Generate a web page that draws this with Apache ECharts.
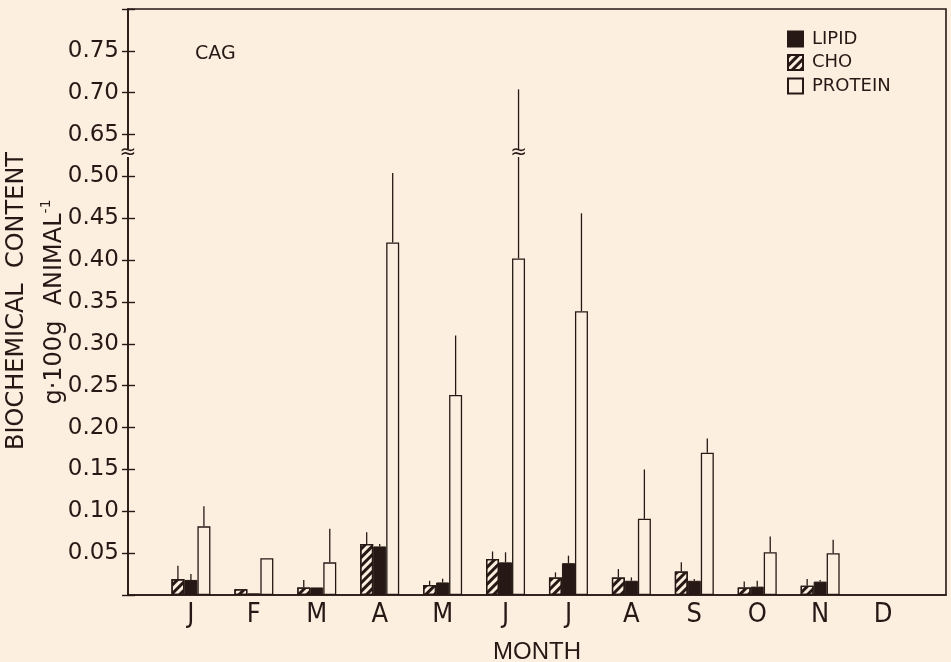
<!DOCTYPE html>
<html><head><meta charset="utf-8">
<script src="https://cdn.jsdelivr.net/npm/echarts@6/dist/echarts.min.js"></script>
<style>html,body{margin:0;padding:0;background:#fcefe0;} #c{width:951px;height:662px;}</style>
</head><body><div id="c"></div>
<script>
// ---- data (g·100g animal^-1) ----
const months = ['Jan','Feb','Mar','Apr','May','Jun','Jul','Aug','Sep','Oct','Nov','Dec'];
const monthLabels = ['J','F','M','A','M','J','J','A','S','O','N','D'];
const cho      = [0.019, 0.007, 0.009, 0.061, 0.012, 0.043, 0.021, 0.021, 0.028, 0.009, 0.011, null];
const choHi    = [0.035, null,  0.018, 0.075, 0.017, 0.052, 0.027, 0.031, 0.039, 0.016, 0.019, null];
const lipid    = [0.018, 0.002, 0.009, 0.058, 0.015, 0.039, 0.038, 0.017, 0.017, 0.010, 0.016, null];
const lipidHi  = [0.025, null,  null,  0.061, 0.0195,0.051, 0.047, 0.021, 0.019, 0.017, 0.018, null];
const protein  = [0.082, 0.044, 0.039, 0.421, 0.239, 0.402, 0.339, 0.091, 0.170, 0.051, 0.050, null];
const proteinHi= [0.106, null,  0.079, 0.504, 0.310, 0.704, 0.456, 0.150, 0.187, 0.070, 0.066, null];
const breakLow = 0.50, breakHigh = 0.65;

// ---- styling ----
const BG = '#fcefe0', INK = '#261915';
const BAR_W = 13;
const SKIP = breakHigh - breakLow - 0.05;   // axis jumps from 0.50 to 0.65 in one step
const BREAK_MARK = breakLow + 0.028;        // where the break glyph sits (display units)
function toDisp(v){ return v == null ? null : (v >= breakHigh ? v - SKIP : v); }
function dispToLabel(d){ return d > breakLow + 1e-9 ? d + SKIP : d; }

const xCats = ['_start'].concat(months, ['_end']);
const pad = a => [null].concat(a.map(toDisp), [null]);

const errData = [];
[cho, lipid, protein].forEach((vals, k) => {
  const his = [choHi, lipidHi, proteinHi][k];
  vals.forEach((v, i) => {
    if (v != null && his[i] != null) {
      errData.push([i + 1, k, toDisp(v), toDisp(his[i]), his[i] >= breakHigh ? 1 : 0]);
    }
  });
});

function breakGlyph(x, y){
  return [
    {type:'rect', shape:{x:x-4, y:y-4, width:8, height:8}, style:{fill:BG}},
    {type:'text', x:x, y:y, style:{text:'≈', fontSize:20, fontFamily:'DejaVu Sans', fill:INK, align:'center', verticalAlign:'middle'}}
  ];
}

const chart = echarts.init(document.getElementById('c'));
const hatch = {symbol:'rect', symbolSize:1, dashArrayX:[1,0], dashArrayY:[3,3], rotation:-Math.PI/4, color:INK};

chart.setOption({
  backgroundColor: BG,
  animation: false,
  grid: {left:128, right:5, top:9, bottom:67, show:true, borderColor:INK, borderWidth:1.6,
         containLabel:false, outerBoundsMode:'none'},
  legend: {
    data: ['LIPID','CHO','PROTEIN'], orient:'vertical', left:787, top:30, padding:0,
    itemWidth:15, itemHeight:15, itemGap:5.5, icon:'rect',
    textStyle:{fontFamily:'DejaVu Sans', fontSize:18, color:INK, lineHeight:18, padding:[0,0,0,4]}
  },
  graphic: [
    {type:'text', left:195, top:45, style:{text:'CAG', fontFamily:'DejaVu Sans', fontSize:19, fill:INK}},
    {type:'text', x:17, y:301, rotation:Math.PI/2, style:{text:'BIOCHEMICAL  CONTENT', fontFamily:'DejaVu Sans', fontSize:24, fill:INK, align:'center', verticalAlign:'middle'}},
    {type:'text', x:53, y:302, rotation:Math.PI/2, style:{text:'{a|g·100g  ANIMAL}{s|-1}', align:'center', verticalAlign:'middle',
      rich:{a:{fontFamily:'DejaVu Sans', fontSize:24, fill:INK, lineHeight:28, verticalAlign:'bottom'}, s:{fontFamily:'DejaVu Sans', fontSize:14, fill:INK, lineHeight:28, verticalAlign:'top'}}}}
  ],
  xAxis: {
    type:'category', data:xCats, boundaryGap:false,
    axisLine:{lineStyle:{color:INK, width:1.6}}, axisTick:{show:false},
    axisLabel:{formatter:(v, i) => (i >= 1 && i <= 12 ? monthLabels[i-1] : ''), interval:0, margin:6,
      fontFamily:'Liberation Sans Narrow, DejaVu Sans Condensed, sans-serif', fontSize:27, color:INK},
    name:'MONTH', nameLocation:'middle', nameGap:45,
    nameTextStyle:{fontFamily:'Liberation Sans', fontSize:24, color:INK},
    splitLine:{show:false}
  },
  yAxis: [{
    type:'value', min:0, max:0.70, interval:0.05,
    axisLine:{show:true, lineStyle:{color:INK, width:1.6}},
    axisTick:{show:true, inside:true, length:7, lineStyle:{color:INK, width:1.4}},
    axisLabel:{formatter:d => (d < 0.01 || d > 0.66 ? '' : dispToLabel(d).toFixed(2)), margin:9,
      fontFamily:'DejaVu Sans', fontSize:23, color:INK},
    splitLine:{show:false}
  },{
    type:'value', min:0, max:0.70, interval:0.05, position:'left',
    axisLine:{show:false}, axisLabel:{show:false}, splitLine:{show:false},
    axisTick:{show:true, inside:false, length:6, lineStyle:{color:INK, width:1.4}}
  }],
  series: [
    {name:'CHO', type:'bar', data:pad(cho), barWidth:BAR_W, barGap:'0%',
      itemStyle:{color:BG, borderColor:INK, borderWidth:1.3, decal:hatch}},
    {name:'LIPID', type:'bar', data:pad(lipid), barWidth:BAR_W, barGap:'0%',
      itemStyle:{color:INK, borderColor:INK, borderWidth:1}},
    {name:'PROTEIN', type:'bar', data:pad(protein), barWidth:BAR_W, barGap:'0%',
      itemStyle:{color:BG, borderColor:INK, borderWidth:1.3}},
    {name:'err', type:'custom', z:10, data:errData, encode:{x:0, y:[2,3]}, silent:true,
      renderItem(params, api){
        const ci = api.value(0), k = api.value(1);
        const lo = api.coord([ci, api.value(2)]);
        const hi = api.coord([ci, api.value(3)]);
        const x = lo[0] + (k - 1) * BAR_W;
        const ch = [{type:'line', shape:{x1:x, y1:lo[1], x2:x, y2:hi[1]}, style:{stroke:INK, lineWidth:1.3}}];
        if (api.value(4)) { const b = api.coord([ci, BREAK_MARK]); ch.push(...breakGlyph(x, b[1])); }
        return {type:'group', children:ch};
      }},
    {name:'axisBreak', type:'custom', z:10, data:[[0, BREAK_MARK]], silent:true,
      renderItem(params, api){
        const p = api.coord([api.value(0), api.value(1)]);
        return {type:'group', children:breakGlyph(p[0], p[1])};
      }}
  ]
});
</script></body></html>
